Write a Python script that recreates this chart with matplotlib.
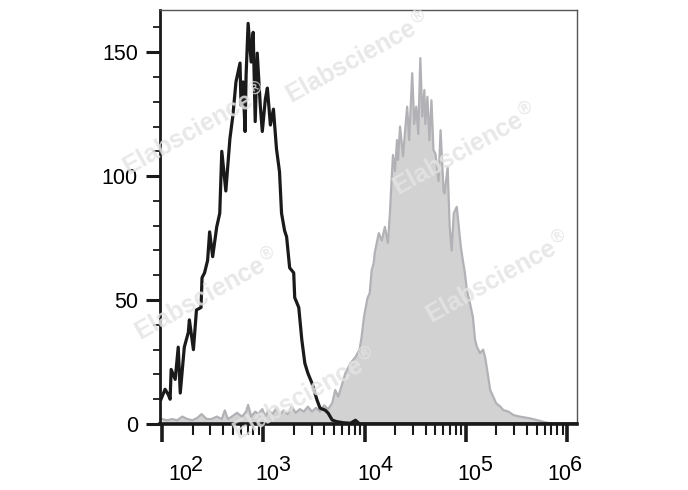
import numpy as np
import matplotlib.pyplot as plt
from matplotlib.ticker import MultipleLocator, FixedLocator, NullFormatter

plt.rcParams['font.family'] = ['Liberation Sans', 'DejaVu Sans']

# isotype / unstained control (black outline): log10 intensity, count
ctrl_log = [1.99, 2.03, 2.06, 2.08, 2.09, 2.13, 2.16, 2.18, 2.22, 2.26, 2.27, 2.31,
            2.34, 2.385, 2.395, 2.42, 2.45, 2.47, 2.50, 2.54, 2.57, 2.59, 2.63, 2.67,
            2.70, 2.73, 2.77, 2.78, 2.80, 2.82, 2.83, 2.85, 2.88, 2.90, 2.92, 2.94,
            2.97, 2.99, 3.02, 3.04, 3.07, 3.10, 3.13, 3.16, 3.18, 3.21, 3.23, 3.26,
            3.30, 3.31, 3.35, 3.38, 3.41, 3.44, 3.48, 3.53, 3.56, 3.61, 3.64, 3.68,
            3.72, 3.79, 3.86, 3.91, 3.95, 6.10]
ctrl_count = [10, 14, 12, 10, 22, 18, 31, 12.5, 31, 37, 42, 30,
              46, 47, 59, 61, 66, 77.5, 67.5, 79.5, 85, 110, 94, 115,
              124.6, 138, 145.6, 128.6, 138, 118, 140.7, 161.6, 146, 158, 122, 149.6,
              128.6, 118, 131, 135.5, 120.6, 127, 111, 101.7, 85, 78, 75.5, 63,
              61, 51, 47, 34, 24.5, 20.5, 16.5, 9.7, 6.4, 5.6, 4.4, 1.6,
              1, 0.5, 0.3, 1.5, 0, 0]

# stained sample (grey filled)
stain_log = [2.00, 2.05, 2.10, 2.15, 2.20, 2.25, 2.30, 2.35, 2.39, 2.44, 2.49, 2.54,
             2.59, 2.62, 2.65, 2.69, 2.74, 2.79, 2.83, 2.85, 2.88, 2.92, 2.95, 2.99,
             3.02, 3.05, 3.09, 3.13, 3.16, 3.20, 3.24, 3.28, 3.32, 3.36, 3.40, 3.44,
             3.48, 3.52, 3.56, 3.60, 3.64, 3.68, 3.71, 3.74, 3.77, 3.81, 3.86, 3.91,
             3.95, 3.97, 3.99, 4.00, 4.03, 4.05, 4.07, 4.09, 4.10, 4.12, 4.14, 4.17,
             4.20, 4.23, 4.25, 4.27, 4.28, 4.30, 4.32, 4.33, 4.35, 4.38, 4.40, 4.42,
             4.44, 4.47, 4.49, 4.51, 4.53, 4.55, 4.57, 4.59, 4.60, 4.62, 4.64, 4.66,
             4.68, 4.70, 4.73, 4.75, 4.78, 4.79, 4.82, 4.84, 4.86, 4.88, 4.91, 4.93,
             4.95, 4.97, 4.99, 5.01, 5.04, 5.07, 5.09, 5.11, 5.14, 5.17, 5.19, 5.21,
             5.24, 5.27, 5.30, 5.34, 5.37, 5.42, 5.47, 5.53, 5.63, 5.70, 5.80, 5.90,
             6.10]
stain_count = [2, 1.5, 2, 1.5, 3, 2, 1.5, 2.5, 4, 2, 2, 3,
               2, 5.5, 2, 3, 4.5, 3, 5, 7.7, 3, 5, 4, 6,
               3, 5.5, 4, 6.5, 3.5, 5.5, 4, 7, 4.5, 6, 5, 7,
               5, 6.5, 5, 7.5, 6, 8.4, 13.7, 11, 15, 20.5, 24.5, 27,
               30, 35, 42, 44.6, 51, 52.7, 62, 65, 69, 73, 77, 74,
               79.5, 73, 85, 101, 108.5, 102, 114.5, 106.5, 120, 108, 118.5, 128,
               114.5, 141.5, 121, 128, 117, 147.6, 124, 134.7, 121, 132, 114.5, 130.6,
               110.5, 109, 98, 118.5, 94, 93, 103.7, 79.5, 70, 85, 87.6, 79.5,
               71.5, 66, 61, 54, 48.8, 43, 34, 31, 28.6, 30, 27, 21.8,
               13.7, 11, 8.3, 7, 5.6, 5, 3.6, 3, 2.3, 1.6, 0.5, 0,
               0]

y_major = [0, 50, 100, 150]
x_decades = [2, 3, 4, 5, 6]
# horizontal shift (px) of each decade label from its tick
label_shift_px = [6, -8, -7, -9, -20]

watermarks = [(195, 130), (358, 58), (465, 150), (207, 295), (498, 278), (305, 395)]


def main():
    fig = plt.figure(figsize=(6.88, 4.90), dpi=100)
    ax = fig.add_axes([160 / 688, 66 / 490, 417 / 688, 414 / 490])

    ctrl_x = 10 ** np.array(ctrl_log)
    stain_x = 10 ** np.array(stain_log)

    ax.fill_between(stain_x, stain_count, 0, color='#d2d2d2', lw=0, zorder=1)
    ax.plot(stain_x, stain_count, color='#b2b2b6', lw=1.6, zorder=2)

    # watermark text
    for (px, py) in watermarks:
        fig.text(px / 688, 1 - py / 490, 'Elabscience$^{®}$', rotation=29,
                 ha='center', va='center', fontsize=18, fontweight='bold',
                 color='#e4e4e4', alpha=0.85, zorder=3)

    ax.plot(ctrl_x, ctrl_count, color='#1a1a1a', lw=2.3, zorder=4)

    ax.set_xscale('log')
    ax.set_xlim(10 ** 1.98, 10 ** 6.097)
    ax.set_ylim(0, 167)

    # y axis
    ax.yaxis.set_major_locator(FixedLocator(y_major))
    ax.yaxis.set_minor_locator(MultipleLocator(10))
    ax.tick_params(axis='y', which='major', direction='out', length=10, width=2.2,
                   labelsize=15.5, pad=6, color='#1a1a1a')
    ax.tick_params(axis='y', which='minor', direction='out', length=5, width=1.3,
                   color='#1a1a1a')

    # x axis
    ax.xaxis.set_major_locator(FixedLocator([10.0 ** d for d in x_decades]))
    minors = [m * 10.0 ** d for d in x_decades[:-1] for m in range(2, 10)]
    ax.xaxis.set_minor_locator(FixedLocator(minors))
    ax.xaxis.set_major_formatter(NullFormatter())
    ax.xaxis.set_minor_formatter(NullFormatter())
    ax.tick_params(axis='x', which='major', direction='out', length=13, width=2.6,
                   color='#1a1a1a')
    ax.tick_params(axis='x', which='minor', direction='out', length=8, width=1.5,
                   color='#1a1a1a')

    for d, sh in zip(x_decades, label_shift_px):
        ax.annotate('10', xy=(10.0 ** d, 0), xycoords=('data', 'axes fraction'),
                    xytext=(sh * 0.72, -40.3), textcoords='offset points',
                    ha='left', va='baseline', fontsize=15.5, annotation_clip=False)
        ax.annotate(str(d), xy=(10.0 ** d, 0), xycoords=('data', 'axes fraction'),
                    xytext=((sh + 23) * 0.72, -33.5), textcoords='offset points',
                    ha='left', va='baseline', fontsize=15.5, annotation_clip=False)

    ax.spines['left'].set_linewidth(2.0)
    ax.spines['left'].set_color('#1a1a1a')
    ax.spines['bottom'].set_linewidth(2.6)
    ax.spines['bottom'].set_color('#1a1a1a')
    for s in ('top', 'right'):
        ax.spines[s].set_linewidth(1.0)
        ax.spines[s].set_color('#555555')

    fig.savefig('out.png', dpi=100)


if __name__ == "__main__":
    main()
